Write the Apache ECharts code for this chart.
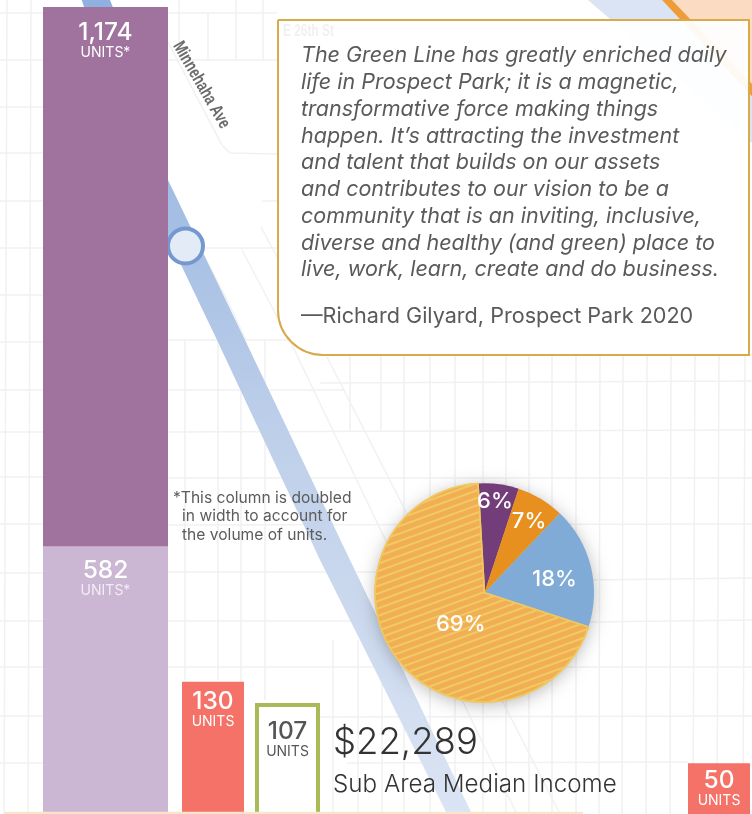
<!DOCTYPE html>
<html><head><meta charset="utf-8">
<style>html,body{margin:0;padding:0;background:#fff}#c{width:752px;height:814px}</style>
<script src="https://cdn.jsdelivr.net/npm/echarts@6/dist/echarts.min.js"></script>
</head><body><div id="c"></div>
<script>
// ---- data ----
const doubledColumnUnits = [582, 1174];
const doubledColumnLabels = ['UNITS*', 'UNITS*'];
const marketRateUnits = [130];
const affordableUnits = [107];
const farColumnUnits = [50];
const pieNames = ['Purple share', 'Orange share', 'Blue share', 'Striped share'];
const pieValues = [6, 7, 18, 69];
const incomeValue = '$22,289';
const incomeLabel = 'Sub Area Median Income';
const quoteLines = [
  'The Green Line has greatly enriched daily',
  'life in Prospect Park; it is a magnetic,',
  'transformative force making things',
  'happen. It’s attracting the investment',
  'and talent that builds on our assets',
  'and contributes to our vision to be a',
  'community that is an inviting, inclusive,',
  'diverse and healthy (and green) place to',
  'live, work, learn, create and do business.'
];
const quoteAuthor = '—Richard Gilyard, Prospect Park 2020';
const noteLines = ['*This column is doubled', 'in width to account for', 'the volume of units.'];

// ---- decorative street map (not data) ----
const streetSegments = [
  [[0,13],[43,13]],[[0,60],[43,60]],[[0,107],[43,107]],[[0,153],[43,153]],[[0,201],[43,201]],[[0,248],[43,248]],[[0,295],[43,295]],
  [[0,342],[43,342]],[[0,390],[43,390]],[[0,432],[43,432]],[[0,477],[43,477]],[[0,524],[43,524]],[[0,573],[43,573]],[[0,621],[43,621]],[[0,667],[43,667]],[[0,716],[43,716]],[[0,763],[43,763]],
  [[7,0],[4,814]],[[31,0],[28,814]],
  [[168,13],[277,13]],[[168,60],[277,60]],[[179,0],[179,42]],[[208,13],[208,60]],[[236,0],[236,60]],[[263,0],[263,60]],
  [[168,42],[222,145],[230,153],[277,154]],[[168,187],[227,300],[246,340]],
  [[205,248],[277,248]],[[262,201],[277,201]],[[242,250],[293,347],[510,800],[517,814]],[[261,227],[277,257]],
  [[327,357],[560,814]],[[168,340],[290,340]],[[168,390],[345,390]],[[168,432],[752,430]],[[168,478],[752,478]],[[168,525],[752,524]],[[168,667],[752,667]],[[320,717],[752,716]],[[347,763],[688,762]],
  [[350,355],[350,432]],[[320,383],[752,381]],[[381,355],[381,432]],[[404,355],[404,814]],[[430,355],[430,814]],[[455,355],[455,814]],[[483,355],[483,814]],[[506,355],[506,814]],[[529,355],[529,814]],
  [[552,355],[552,814]],[[576,355],[576,814]],[[600,355],[599,814]],[[623,355],[622,814]],[[647,355],[646,814]],[[671,355],[670,814]],[[695,355],[693,814]],[[719,355],[717,814]],[[745,355],[743,814]],
  [[185,340],[185,680]],[[218,340],[218,680]],[[241,340],[241,700]],[[265,340],[265,700]],[[333,640],[333,814]],[[358,640],[358,814]],[[382,640],[382,814]],
  [[168,572],[376,572]],[[168,621],[376,621]],[[590,580],[752,578]],[[590,622],[752,620]]
];
const railBand = [[80,-5],[108,-5],[150,100],[168,180],[245,340],[350,560],[472,814],[447,814],[320,560],[217,340],[150,200]];
const blueArea = [[588,0],[662,0],[760,105],[760,150],[610,19]];
const orangeStripe = [[662,0],[672,0],[760,92],[760,105]];
const peachArea = [[672,0],[752,0],[752,84]];

const chart = echarts.init(document.getElementById('c'), null, {renderer:'canvas'});
const FF = 'Inter, "Open Sans", sans-serif';
const labelRich = (c1, c2) => ({
  n:{fontFamily:FF, fontSize:24.5, fontWeight:500, color:c1, lineHeight:20, align:'center'},
  u:{fontFamily:FF, fontSize:14, fontWeight:400, color:c2, lineHeight:20, align:'center'}
});
const catAxis = i => ({type:'category', gridIndex:i, data:['c'], show:false});
const valAxis = (i,max) => ({type:'value', gridIndex:i, min:0, max:max, show:false});
const txt = (x,y,text,font,fill,extra) => ({type:'text', z:1, style:Object.assign({x,y,text,font,fill,verticalAlign:'middle'},extra||{})});

const graphicEls = [];
streetSegments.forEach(p => graphicEls.push({type:'polyline', z:0, shape:{points:p}, style:{stroke:'#f1f1f2', lineWidth:1.5, fill:null}}));
graphicEls.push(
  {type:'polygon', z:0, shape:{points:blueArea}, style:{fill:'#dbe4f5'}},
  {type:'polygon', z:0, shape:{points:peachArea}, style:{fill:'#fbdcc3'}},
  {type:'polygon', z:0, shape:{points:orangeStripe}, style:{fill:'#ee9b3a'}},
  {type:'polygon', z:0, shape:{points:railBand}, style:{fill:new echarts.graphic.LinearGradient(0,0,0,1,[
    {offset:0,color:'#8fb0e0'},{offset:.3,color:'#a7c0e4'},{offset:.55,color:'#bfd0ea'},{offset:1,color:'#dbe4f4'}])}},
  {type:'circle', z:0, shape:{cx:185.5,cy:246,r:17.5}, style:{fill:'#e3ebf6', stroke:'#7698d0', lineWidth:4}},
  {type:'text', z:0, rotation:-Math.PI/180*60, scaleX:0.74, x:177, y:43, style:{x:0,y:0,text:'Minnehaha Ave', font:'bold 18px "Liberation Sans Narrow", sans-serif', fill:'#6b6b6b', verticalAlign:'middle'}},
  {type:'rect', z:1, shape:{x:278,y:20,width:471,height:335,r:[0,0,0,45]}, style:{fill:'rgba(255,255,255,0.94)', stroke:'#d9a94a', lineWidth:2}},
  {type:'text', z:1, scaleX:0.7, x:283, y:31, style:{x:0,y:0,text:'E 26th St', font:'bold 17px "Liberation Sans Narrow", sans-serif', fill:'#f0f0f0', verticalAlign:'middle'}},
  {type:'circle', z:1, shape:{cx:484.5,cy:592.7,r:108.5}, style:{fill:'#efc860', shadowBlur:18, shadowColor:'rgba(0,0,0,0.3)', shadowOffsetY:3}}
);
quoteLines.forEach((l,i) => graphicEls.push(txt(301, 56 + i*26.75, l, 'italic 400 21.5px '+FF, '#5a5a5a')));
graphicEls.push(txt(301,316,quoteAuthor,'400 21.6px '+FF,'#5a5a5a'));
noteLines.forEach((l,i) => graphicEls.push(txt(i===0?173:182, 498+i*18.5, l, '400 15.6px '+FF, '#5c5c5c')));
graphicEls.push(
  txt(333,743.5,incomeValue,'300 36.5px '+FF,'#333'),
  txt(333,784.5,incomeLabel,'300 24.2px '+FF,'#333'),
  {type:'rect', z:10, shape:{x:4,y:811.7,width:579,height:3}, style:{fill:'#f9e6c8'}}
);

chart.setOption({
  animation:false,
  backgroundColor:'#ffffff',
  grid:[
    {left:43, width:125, top:7, height:807, outerBoundsMode:'none'},
    {left:182, width:62, top:0, height:814, outerBoundsMode:'none'},
    {left:255, width:65, top:0, height:818, outerBoundsMode:'none'},
    {left:688, width:62, top:0, height:814, outerBoundsMode:'none'}
  ],
  xAxis:[catAxis(0),catAxis(1),catAxis(2),catAxis(3)],
  yAxis:[valAxis(0,doubledColumnUnits[0]+doubledColumnUnits[1]),valAxis(1,800),valAxis(2,761),valAxis(3,800)],
  graphic:{elements:graphicEls},
  series:[
    {type:'bar', name:'582 units', xAxisIndex:0, yAxisIndex:0, stack:'t', barWidth:'100%', data:[doubledColumnUnits[0]],
     itemStyle:{color:'#cbb6d4'},
     label:{show:true, position:'insideTop', distance:14, formatter:p=>'{n|'+p.value.toLocaleString('en-US')+'}\n{u|'+doubledColumnLabels[0]+'}', rich:labelRich('#fff','#f3edf5')}},
    {type:'bar', name:'1,174 units', xAxisIndex:0, yAxisIndex:0, stack:'t', barWidth:'100%', data:[doubledColumnUnits[1]],
     itemStyle:{color:'#a0739f'},
     label:{show:true, position:'insideTop', distance:16, formatter:p=>'{n|'+p.value.toLocaleString('en-US')+'}\n{u|'+doubledColumnLabels[1]+'}', rich:labelRich('#fff','#fff')}},
    {type:'bar', name:'130 units', xAxisIndex:1, yAxisIndex:1, barWidth:'100%', data:marketRateUnits,
     itemStyle:{color:'#f47267'},
     label:{show:true, position:'insideTop', distance:10, formatter:p=>'{n|'+p.value+'}\n{u|UNITS}', rich:labelRich('#fff','#fff')}},
    {type:'bar', name:'107 units', xAxisIndex:2, yAxisIndex:2, barWidth:'100%', data:affordableUnits,
     itemStyle:{color:'#ffffff', borderColor:'#a9bb57', borderWidth:4},
     label:{show:true, position:'insideTop', distance:19, formatter:p=>'{n|'+p.value+'}\n{u|UNITS}', rich:labelRich('#555','#555')}},
    {type:'bar', name:'50 units', xAxisIndex:3, yAxisIndex:3, barWidth:'100%', data:farColumnUnits,
     itemStyle:{color:'#f47267'},
     label:{show:true, position:'insideTop', distance:8, formatter:p=>'{n|'+p.value+'}\n{u|UNITS}', rich:labelRich('#fff','#fff')}},
    {type:'pie', center:[484.5,592.7], radius:[0,109.5], startAngle:93.4, clockwise:true, silent:true,
     avoidLabelOverlap:false, labelLayout:{hideOverlap:false},
     labelLine:{show:false},
     label:{show:true, position:'inside', formatter:'{c}%', color:'#fff', fontFamily:FF, fontSize:22, fontWeight:500},
     data:[
       {name:pieNames[0], value:pieValues[0], itemStyle:{color:'#733d7a'}, label:{offset:[3,-34]}},
       {name:pieNames[1], value:pieValues[1], itemStyle:{color:'#e8901f'}, label:{offset:[15,-22]}},
       {name:pieNames[2], value:pieValues[2], itemStyle:{color:'#80abd6'}, label:{offset:[14,1]}},
       {name:pieNames[3], value:pieValues[3], itemStyle:{color:'#f2ae55', borderColor:'#efc860', borderWidth:1.5,
         decal:{symbol:'rect', dashArrayX:[1,0], dashArrayY:[2,5], rotation:-Math.PI/9, color:'#efcb62'}}, label:{offset:[22,-4]}}
     ]}
  ]
});
</script></body></html>
